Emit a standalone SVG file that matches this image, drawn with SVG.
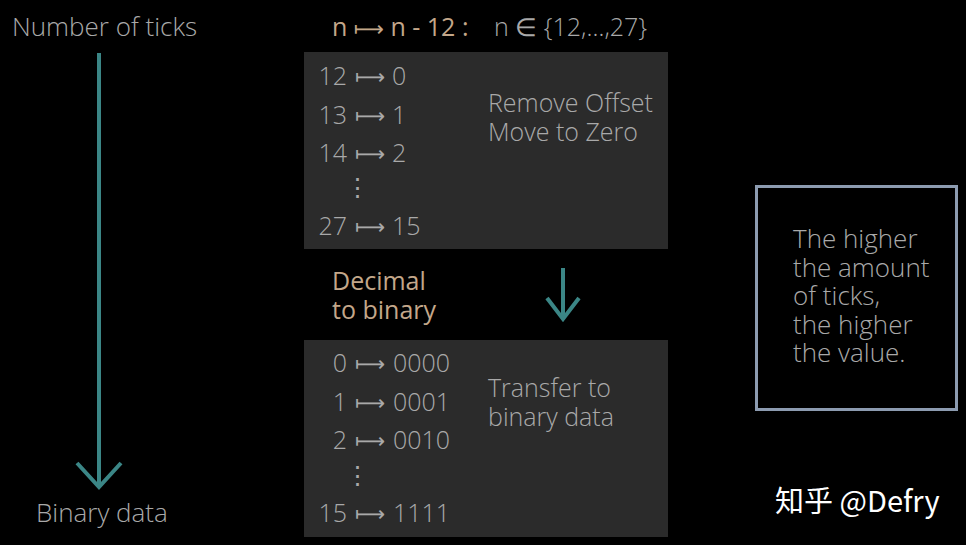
<svg xmlns="http://www.w3.org/2000/svg" width="966" height="545" viewBox="0 0 966 545">
<style>
.t{font-family:"Open Sans","Noto Sans","DejaVu Sans",sans-serif;font-weight:300;font-size:25px;fill:#a9a9a9}
.l{font-size:26px}
.tan{font-family:"Open Sans","Noto Sans",sans-serif;font-weight:400;font-size:25px;fill:#c3a78a}
.ar{font-family:"DejaVu Sans",sans-serif;font-size:21px;fill:#a9a9a9}
.box{fill:#2b2b2b}
.conn{stroke:#3b8686;stroke-width:4;fill:none;stroke-linecap:butt}
</style>
<rect width="966" height="545" fill="#000"/>
<g id="label-ticks"><text class="t l" x="12" y="36">Number of ticks</text></g>
<g id="label-binary"><text class="t l" x="36" y="522">Binary data</text></g>
<g id="formula">
<text class="tan" x="332" y="36"><tspan>n </tspan><tspan class="ar" style="fill:#c3a78a">⟼</tspan><tspan font-weight="500"> n - 12 :</tspan></text>
<text class="t" x="494" y="36">n ∈ {12,…,27}</text>
</g>
<g id="box-offset">
<rect class="box" x="304" y="52" width="364" height="197"/>
<text class="t" x="347" y="85" text-anchor="end">12</text>
<text class="t" x="347" y="124" text-anchor="end">13</text>
<text class="t" x="347" y="162" text-anchor="end">14</text>
<text class="t" x="347" y="235" text-anchor="end">27</text>
<text class="ar" x="355" y="84">⟼</text>
<text class="ar" x="355" y="123">⟼</text>
<text class="ar" x="355" y="161">⟼</text>
<text class="ar" x="355" y="234">⟼</text>
<text class="t" x="392" y="85">0</text>
<text class="t" x="392" y="124">1</text>
<text class="t" x="392" y="162">2</text>
<text class="t" x="392" y="235">15</text>
<text class="t" x="357" y="196" text-anchor="middle">⋮</text>
<text class="t" x="488" y="112" font-size="25.5">Remove Offset<tspan x="488" dy="29">Move to Zero</tspan></text>
</g>
<g id="label-decimal">
<text class="tan" x="332" y="290">Decimal<tspan x="332" dy="29">to binary</tspan></text>
</g>
<g id="box-binary">
<rect class="box" x="304" y="340" width="364" height="197"/>
<text class="t" x="347" y="372" text-anchor="end">0</text>
<text class="t" x="347" y="411" text-anchor="end">1</text>
<text class="t" x="347" y="449" text-anchor="end">2</text>
<text class="t" x="347" y="522" text-anchor="end">15</text>
<text class="ar" x="355" y="371">⟼</text>
<text class="ar" x="355" y="410">⟼</text>
<text class="ar" x="355" y="448">⟼</text>
<text class="ar" x="355" y="521">⟼</text>
<text class="t" x="393" y="372">0000</text>
<text class="t" x="393" y="411">0001</text>
<text class="t" x="393" y="449">0010</text>
<text class="t" x="393" y="522">1111</text>
<text class="t" x="357" y="484" text-anchor="middle">⋮</text>
<text class="t" x="488" y="397" font-size="25.5">Transfer to<tspan x="488" dy="29">binary data</tspan></text>
</g>
<g id="note">
<rect x="756.5" y="186.5" width="200" height="223" fill="none" stroke="#8c9bb0" stroke-width="3"/>
<text class="t l" x="793" y="248">The higher<tspan x="793" dy="29">the amount</tspan><tspan x="793" dy="28">of ticks,</tspan><tspan x="793" dy="29">the higher</tspan><tspan x="793" dy="28">the value.</tspan></text>
</g>
<g id="connectors">
<line class="conn" x1="99" y1="53" x2="99" y2="486"/>
<polyline class="conn" points="77,463 99,487 121,463"/>
<line class="conn" x1="563" y1="268" x2="563" y2="318"/>
<polyline class="conn" points="547,298 563,319 579,298"/>
</g>
<g id="watermark"><text x="775" y="512" font-family="'Noto Sans CJK SC','Noto Sans',sans-serif" font-size="29" fill="#ffffff">知乎 @Defry</text></g>
</svg>
